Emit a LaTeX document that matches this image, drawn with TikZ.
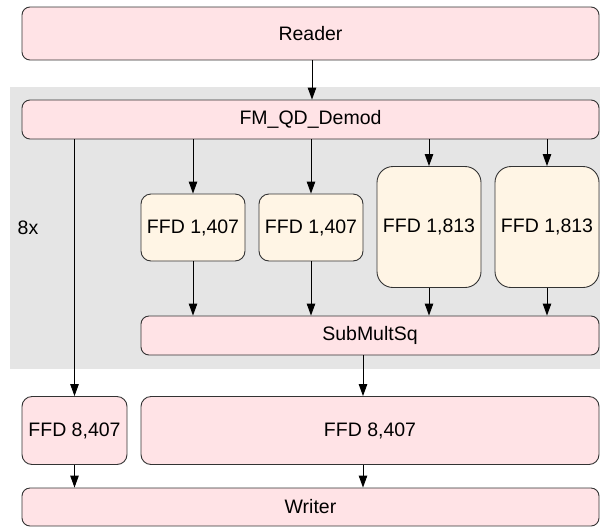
\documentclass[tikz,border=0pt]{standalone}
\usepackage{fontspec}
\setmainfont{Liberation Sans}
\usetikzlibrary{arrows.meta}
\definecolor{pinkfill}{HTML}{FFE3E6}
\definecolor{creamfill}{HTML}{FFF5E5}
\definecolor{grayback}{HTML}{E5E5E5}
\definecolor{edge}{HTML}{333333}
\tikzset{
  blk/.style={draw=edge, line width=0.9pt, inner sep=0pt, font=\fontsize{19.5}{23}\selectfont},
  pinkbox/.style={blk, fill=pinkfill, rounded corners=8pt},
  creambox/.style={blk, fill=creamfill, rounded corners=10pt},
  tallbox/.style={blk, fill=creamfill, rounded corners=16pt},
  arr/.style={draw=black, line width=0.9pt, -{Triangle[length=12pt,width=8.5pt]}},
}
\begin{document}
\begin{tikzpicture}[x=1pt,y=-1pt]
\useasboundingbox (0,0) rectangle (600,531);
\fill[grayback] (10,87) rectangle (600,369);
\node[pinkbox, minimum width=577pt, minimum height=53pt] (reader) at (310.5,33.5) {Reader};
\node[pinkbox, minimum width=577pt, minimum height=39pt] (fm) at (310.5,119.5) {FM\_QD\_Demod};
\node[creambox, minimum width=104pt, minimum height=67pt] (f1) at (193,227.5) {FFD 1,407};
\node[creambox, minimum width=104pt, minimum height=67pt] (f2) at (311,227.5) {FFD 1,407};
\node[tallbox, minimum width=104pt, minimum height=121pt] (f3) at (429,227) {FFD 1,813};
\node[tallbox, minimum width=104pt, minimum height=121pt] (f4) at (547,227) {FFD 1,813};
\node[pinkbox, minimum width=458pt, minimum height=39pt] (sub) at (370,335.5) {SubMultSq};
\node[font=\fontsize{19.5}{23}\selectfont] (rep) at (28,228) {8x};
\node[pinkbox, rounded corners=10pt, minimum width=105pt, minimum height=68pt] (s8) at (74.5,430.5) {FFD 8,407};
\node[pinkbox, rounded corners=10pt, minimum width=458pt, minimum height=68pt] (b8) at (370,430.5) {FFD 8,407};
\node[pinkbox, minimum width=577pt, minimum height=38pt] (writer) at (310.5,507) {Writer};
\coordinate (subout) at ([xshift=-7pt]sub.south);
\coordinate (bout) at ([xshift=-7pt]b8.south);
% connectors
\draw[arr] ([xshift=1.5pt]reader.south) -- ([xshift=1.5pt]fm.north);
\draw[arr] (fm.south -| s8.north) -- (s8.north);
\foreach \n in {f1,f2,f3,f4}{
  \draw[arr] (fm.south -| \n.north) -- (\n.north);
  \draw[arr] (\n.south) -- (sub.north -| \n.south);
}
\draw[arr] (subout) -- (b8.north -| subout);
\draw[arr] (s8.south) -- (writer.north -| s8.south);
\draw[arr] (bout) -- (writer.north -| bout);
\end{tikzpicture}
\end{document}
